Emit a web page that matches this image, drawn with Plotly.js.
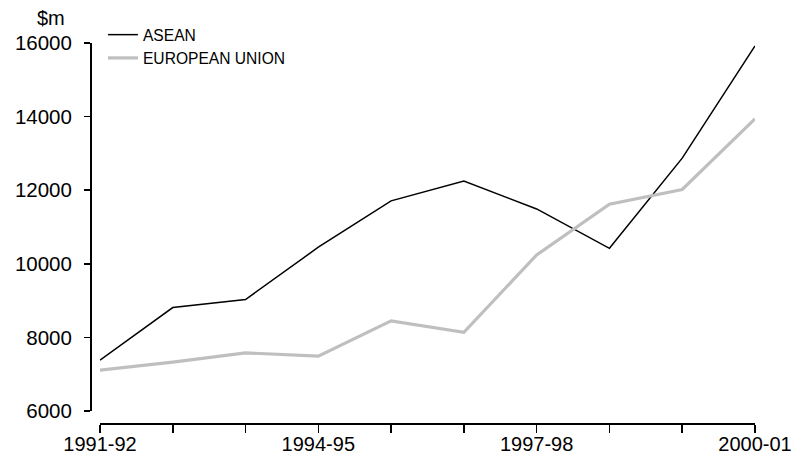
<!DOCTYPE html>
<html><head><meta charset="utf-8">
<script src="https://cdn.plot.ly/plotly-3.0.1.min.js"></script>
<style>body{margin:0;background:#fff}#c{width:800px;height:454px}</style>
</head><body><div id="c"></div>
<script>
const years = ["1991-92","1992-93","1993-94","1994-95","1995-96","1996-97","1997-98","1998-99","1999-00","2000-01"];
const tickLabels = ["1991-92","","","1994-95","","","1997-98","","","2000-01"];
const yTicks = [6000, 8000, 10000, 12000, 14000, 16000];
const yTickLabels = ["6000", "8000", "10000", "12000", "14000", "16000"];
const asean = [7380, 8810, 9030, 10450, 11710, 12250, 11490, 10420, 12870, 15920];
const eu = [7110, 7330, 7580, 7490, 8450, 8140, 10240, 11620, 12020, 13940];

const FONT = "Liberation Sans, Arial, sans-serif";
const traces = [
  {x: years, y: asean, type: "scatter", mode: "lines", name: "ASEAN",
   line: {color: "#000000", width: 1.5}},
  {x: years, y: eu, type: "scatter", mode: "lines", name: "EUROPEAN UNION",
   line: {color: "#bfbfbf", width: 3.2}}
];
const layout = {
  width: 800, height: 454,
  margin: {l: 90, r: 45, t: 43, b: 31},
  paper_bgcolor: "#fff", plot_bgcolor: "#fff",
  font: {family: FONT, color: "#000", size: 20},
  showlegend: true,
  legend: {x: 0.0195, y: 1.0658, xanchor: "left", yanchor: "top", bgcolor: "rgba(0,0,0,0)",
           font: {size: 15.6, family: FONT}, tracegroupgap: 0, itemwidth: 30},
  xaxis: {type: "category", domain: [0.015, 1], range: [0, 9], anchor: "free", position: 0,
          tickmode: "array", tickvals: years, ticktext: tickLabels,
          showline: true, linecolor: "#000", linewidth: 1.5, showgrid: false, zeroline: false,
          ticks: "outside", ticklen: 8, tickwidth: 1.5, tickcolor: "#000",
          ticklabelstandoff: -6,
          tickfont: {size: 20, family: FONT}},
  yaxis: {domain: [0.0316, 1], range: [6000, 16000], anchor: "free", position: 0,
          tickmode: "array", tickvals: yTicks, ticktext: yTickLabels,
          showline: true, linecolor: "#000", linewidth: 1.5, showgrid: false, zeroline: false,
          ticks: "outside", ticklen: 6, tickwidth: 1.5, tickcolor: "#000",
          ticklabelstandoff: 8,
          tickfont: {size: 20.5, family: FONT}},
  annotations: [{text: "$m", xref: "paper", yref: "paper", x: -0.0586, y: 1.0, yshift: 25,
                 xanchor: "center", yanchor: "middle", showarrow: false,
                 font: {size: 20, family: FONT}}]
};
Plotly.newPlot("c", traces, layout, {displayModeBar: false, staticPlot: true});
</script></body></html>
